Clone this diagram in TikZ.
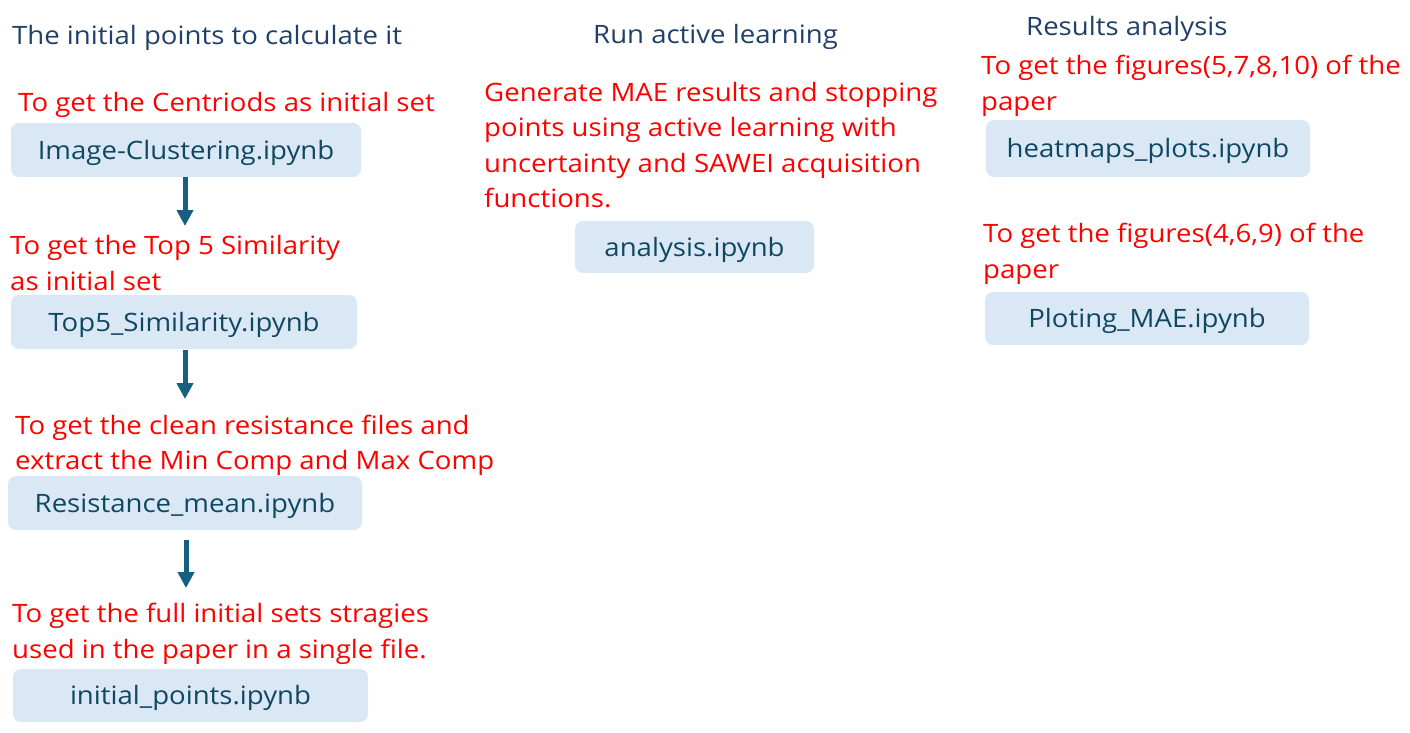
\documentclass[tikz,border=0pt]{standalone}
\usepackage{fontspec}
\setmainfont[FakeStretch=1.09]{Open Sans}
\usetikzlibrary{arrows.meta}
\definecolor{titlec}{HTML}{1F4068}
\definecolor{filec}{HTML}{104862}
\definecolor{boxfill}{HTML}{DAE8F5}
\definecolor{arrowc}{HTML}{156082}
\definecolor{redc}{HTML}{FF0000}
\tikzset{
  title/.style={anchor=base west, inner sep=0pt, text=titlec, font=\fontsize{25.3}{35.5}\selectfont},
  note/.style={anchor=base west, inner sep=0pt, text=redc, align=left, font=\fontsize{25.3}{35.5}\selectfont},
  filebox/.style={fill=boxfill, rounded corners=8pt, inner sep=0pt, text=filec, text height=18pt, text depth=0pt, font=\fontsize{25.3}{28}\selectfont},
  flow/.style={draw=arrowc, line width=5pt, -{Triangle[length=16pt,width=16pt]}}
}
\begin{document}
\begin{tikzpicture}[x=1pt,y=-1pt]
\useasboundingbox (0,0) rectangle (1410,732);
% titles
\node[title] (t1) at (12,44) {The initial points to calculate it};
\node[title] (t2) at (593,43) {Run active learning};
\node[title] (t3) at (1026,35) {Results analysis};
% left column (base anchor = baseline of the last line)
\node[note] (n1) at (18,111) {To get the Centriods as initial set};
\node[filebox, minimum width=350pt, minimum height=54pt] (b1) at (186,150) {Image-Clustering.ipynb};
\node[note] (n2) at (10,290) {To get the Top 5 Similarity\\as initial set};
\node[filebox, minimum width=346pt, minimum height=54pt] (b2) at (184,322) {Top5\_Similarity.ipynb};
\node[note] (n3) at (15,469.5) {To get the clean resistance files and\\extract the Min Comp and Max Comp};
\node[filebox, minimum width=354pt, minimum height=54pt] (b3) at (185,503) {Resistance\_mean.ipynb};
\node[note] (n4) at (12,658) {To get the full initial sets stragies\\used in the paper in a single file.};
\node[filebox, minimum width=355pt, minimum height=53pt] (b4) at (190.5,695.5) {initial\_points.ipynb};
% middle
\node[note] (n5) at (484,207.5) {Generate MAE results and stopping\\points using active learning with\\uncertainty and SAWEI acquisition\\functions.};
\node[filebox, minimum width=239pt, minimum height=52pt] (b5) at (694.5,247) {analysis.ipynb};
% right
\node[note] (n6) at (981,110) {To get the figures(5,7,8,10) of the\\paper};
\node[filebox, minimum width=324pt, minimum height=57pt] (b6) at (1148,148.5) {heatmaps\_plots.ipynb};
\node[note] (n7) at (983,278) {To get the figures(4,6,9) of the\\paper};
\node[filebox, minimum width=324pt, minimum height=53pt] (b7) at (1147,318.5) {Ploting\_MAE.ipynb};
% arrows
\coordinate (a1e) at (185,226);
\coordinate (a2e) at (185,399);
\coordinate (a3s) at (186,540);
\coordinate (a3e) at (186,588);
\draw[flow] (b1.south -| a1e) -- (a1e);
\draw[flow] (b2.south -| a2e) ++(0,1) -- (a2e);
\draw[flow] (a3s) -- (a3e);
\end{tikzpicture}
\end{document}
